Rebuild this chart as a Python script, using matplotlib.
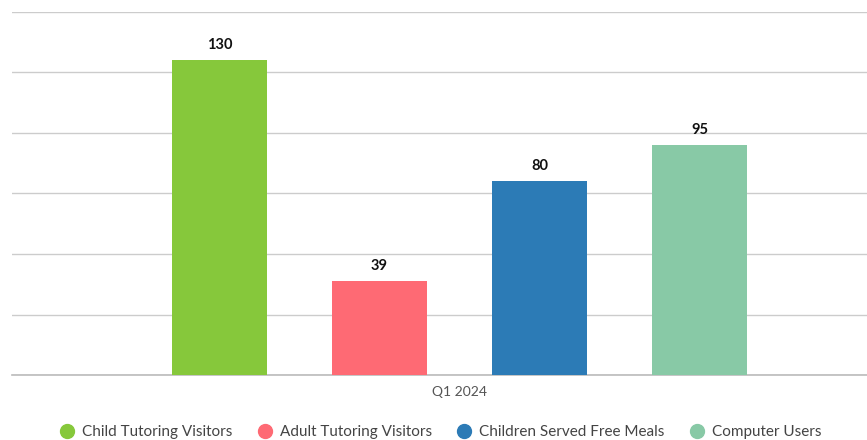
import matplotlib
matplotlib.use("Agg")
import matplotlib.pyplot as plt
from matplotlib.lines import Line2D

categories = ["Q1 2024"]
series_names = ["Child Tutoring Visitors", "Adult Tutoring Visitors",
                "Children Served Free Meals", "Computer Users"]
series_values = [130, 39, 80, 95]
colors = ["#86c83b", "#fe6a74", "#2c7bb6", "#88c9a6"]

plt.rcParams['font.family'] = ['Lato', 'DejaVu Sans']

fig = plt.figure(figsize=(8.67, 4.40), dpi=100)
ax = fig.add_axes([12/867, 65/440, 855/867, 363/440])

offsets = [-1.5, -0.5, 0.5, 1.5]
width = 95/160
for off, v, c, name in zip(offsets, series_values, colors, series_names):
    ax.bar(off, v, width=width, color=c, label=name, zorder=3)
    ax.text(off, v + 3.3, str(v), ha='center', va='bottom', fontsize=10.5,
            fontweight='bold', color='#111111')

ax.set_ylim(0, 150)
ax.set_xlim(-447.5/160, (855-447.5)/160)
ax.set_yticks(range(0, 151, 25))
ax.yaxis.grid(True, color='#cccccc', linewidth=1, zorder=0)
ax.set_yticklabels([])
ax.tick_params(axis='both', length=0)
ax.set_xticks([0])
ax.set_xticklabels(categories, fontsize=10, color='#555555')
ax.tick_params(axis='x', pad=8)
for s in ['top', 'right', 'left']:
    ax.spines[s].set_visible(False)
ax.spines['bottom'].set_color('#bbbbbb')
ax.spines['bottom'].set_linewidth(1.2)

handles = [Line2D([0], [0], marker='o', linestyle='', markersize=10,
                  markerfacecolor=c, markeredgecolor=c) for c in colors]
fig.legend(handles, series_names, loc='center', bbox_to_anchor=(0.508, 8/440),
           ncol=4, frameon=False, fontsize=11, handletextpad=0.5,
           columnspacing=1.6, labelcolor='#444444', handlelength=1.0)

fig.savefig("out.png", dpi=100)
